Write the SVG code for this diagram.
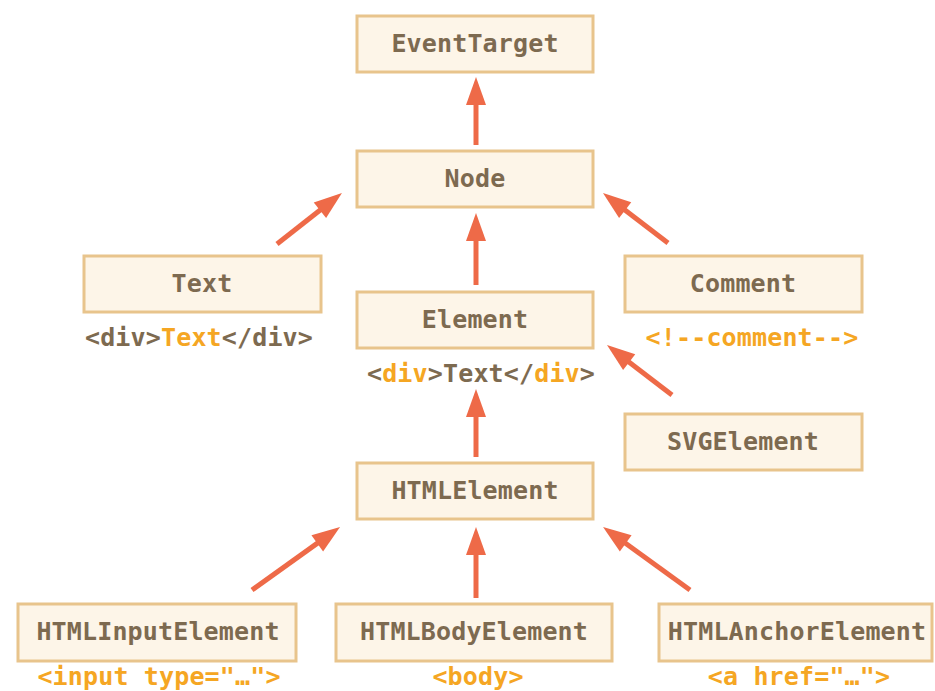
<svg xmlns="http://www.w3.org/2000/svg" width="935" height="691" viewBox="0 0 935 691">
<style>
.box{fill:#fdf5e8;stroke:#e8c48c;stroke-width:3}
.lbl{font-family:"DejaVu Sans Mono","Liberation Mono",monospace;font-weight:bold;font-size:25px;letter-spacing:0.15px;fill:#7d6a50;text-anchor:middle}
.o{fill:#f5a623}
.arr{stroke:#ee6a48;stroke-width:5;fill:none;marker-end:url(#ah)}
</style>
<defs>
<marker id="ah" markerUnits="userSpaceOnUse" refX="2" refY="0" markerWidth="30" markerHeight="22" orient="auto" overflow="visible">
<path d="M0,-10 L28,0 L0,10 Z" fill="#ee6a48"/>
</marker>
</defs>
<rect width="935" height="691" fill="#ffffff"/>
<g id="connectors">
<line class="arr" x1="476" y1="145" x2="476" y2="103"/>
<line class="arr" x1="476" y1="285" x2="476" y2="239"/>
<line class="arr" x1="476" y1="457" x2="476" y2="415"/>
<line class="arr" x1="476" y1="598" x2="476" y2="553"/>
<line class="arr" x1="277" y1="244" x2="321.5" y2="209"/>
<line class="arr" x1="668" y1="243" x2="623.6" y2="208.9"/>
<line class="arr" x1="672" y1="395" x2="627.6" y2="360.9"/>
<line class="arr" x1="252" y1="590" x2="318.9" y2="542.1"/>
<line class="arr" x1="690" y1="590" x2="624.1" y2="542.3"/>
</g>
<g id="EventTarget">
<rect class="box" x="357" y="16" width="236" height="56"/>
<text class="lbl" x="475" y="52">EventTarget</text>
</g>
<g id="Node">
<rect class="box" x="357" y="151" width="236" height="56"/>
<text class="lbl" x="475" y="187">Node</text>
</g>
<g id="Text">
<rect class="box" x="84" y="256" width="237" height="56"/>
<text class="lbl" x="202" y="292">Text</text>
<text class="lbl" x="199" y="346">&lt;div&gt;<tspan class="o">Text</tspan>&lt;/div&gt;</text>
</g>
<g id="Element">
<rect class="box" x="357" y="292" width="236" height="56"/>
<text class="lbl" x="475" y="328">Element</text>
<text class="lbl" x="481" y="382">&lt;<tspan class="o">div</tspan>&gt;Text&lt;/<tspan class="o">div</tspan>&gt;</text>
</g>
<g id="Comment">
<rect class="box" x="625" y="256" width="237" height="56"/>
<text class="lbl" x="743" y="292">Comment</text>
<text class="lbl o" x="752" y="346">&lt;!--comment--&gt;</text>
</g>
<g id="SVGElement">
<rect class="box" x="625" y="414" width="237" height="56"/>
<text class="lbl" x="743" y="450">SVGElement</text>
</g>
<g id="HTMLElement">
<rect class="box" x="357" y="463" width="236" height="56"/>
<text class="lbl" x="475" y="499">HTMLElement</text>
</g>
<g id="HTMLInputElement">
<rect class="box" x="18" y="604" width="278" height="57"/>
<text class="lbl" x="158" y="640">HTMLInputElement</text>
<text class="lbl o" x="159" y="685">&lt;input type="…"&gt;</text>
</g>
<g id="HTMLBodyElement">
<rect class="box" x="336" y="604" width="276" height="57"/>
<text class="lbl" x="474" y="640">HTMLBodyElement</text>
<text class="lbl o" x="478" y="685">&lt;body&gt;</text>
</g>
<g id="HTMLAnchorElement">
<rect class="box" x="659" y="604" width="273" height="57"/>
<text class="lbl" x="797" y="640">HTMLAnchorElement</text>
<text class="lbl o" x="799" y="685">&lt;a href="…"&gt;</text>
</g>
</svg>
